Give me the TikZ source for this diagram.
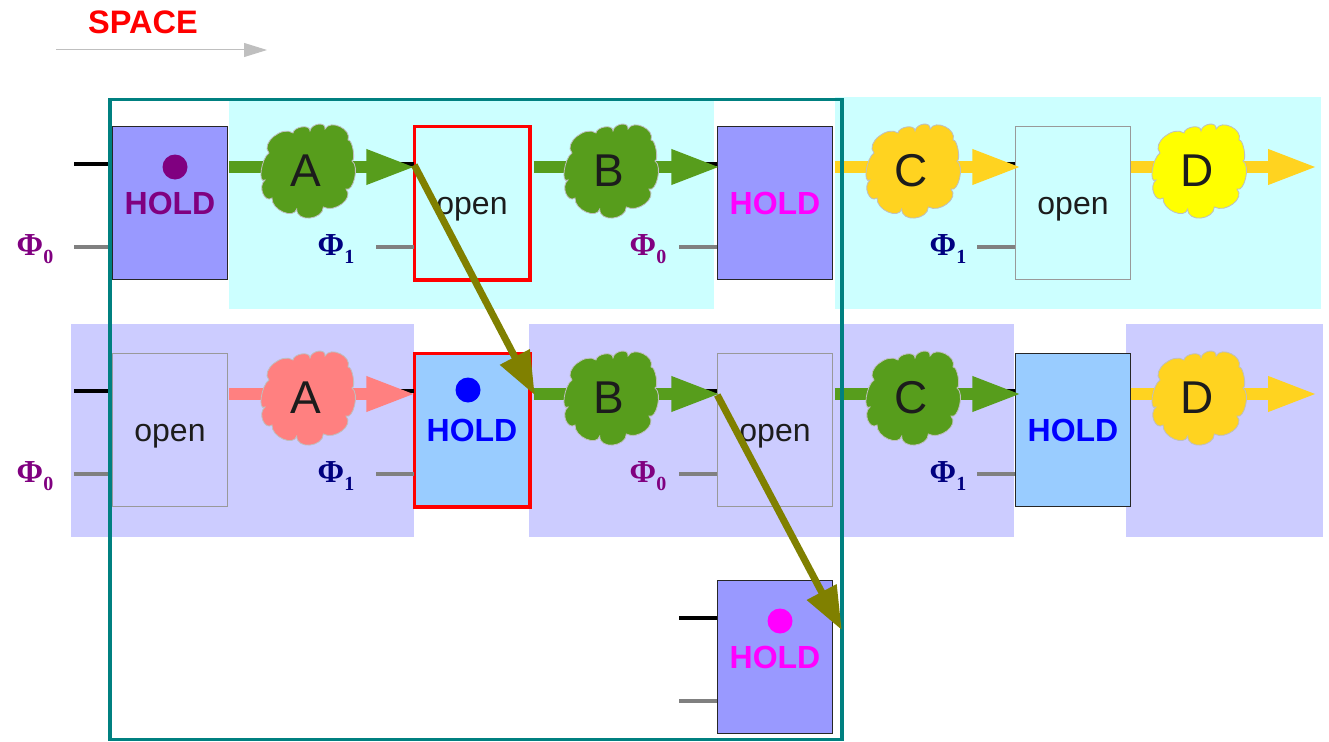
\documentclass[tikz,border=0pt]{standalone}
\usepackage{fontspec}
\setmainfont{Liberation Sans}
\newfontfamily\phifont{Liberation Serif}
\usetikzlibrary{arrows.meta}
\definecolor{holdblue}{HTML}{9999FF}
\definecolor{skyblue}{HTML}{99CCFF}
\definecolor{paleblue}{HTML}{CCCCFF}
\definecolor{palecyan}{HTML}{CCFFFF}
\definecolor{leaf}{HTML}{579D1C}
\definecolor{amber}{HTML}{FFD320}
\definecolor{salmon}{HTML}{FF8080}
\definecolor{inktext}{HTML}{1C1C1C}
\definecolor{holdpurple}{HTML}{800080}
\definecolor{holdpink}{HTML}{FF00FF}
\definecolor{holdnavy}{HTML}{000080}
\definecolor{jumpolive}{HTML}{808000}
\definecolor{framebar}{HTML}{008080}
\definecolor{brightyellow}{HTML}{FFFF00}
\newcommand{\phisym}[1]{\phifont\bfseries Φ\raisebox{-8pt}{\fontsize{20}{20}\selectfont #1}}
% outline of one token, then its letter
\newcommand{\tokenblob}[3]{
    \draw[draw=gray!50, line width=0.8pt, fill=#2, shift={(#1)}] (-39,-18)
        .. controls (-48,-27.6) and (-25.4,-45.9) .. (-15,-38)
        .. controls (-14.6,-44.1) and (2.1,-47.4) .. (2,-40)
        .. controls (3.1,-47.6) and (18.1,-50) .. (17,-42)
        .. controls (22.5,-52.3) and (44.2,-41.6) .. (40,-31)
        .. controls (44.5,-32.1) and (47.8,-10.4) .. (44,-10)
        .. controls (51.8,-4.9) and (45.1,21.7) .. (38,18)
        .. controls (46.5,27.3) and (26.5,42.3) .. (15.3,36)
        .. controls (15.3,48.7) and (-11.3,52.1) .. (-11.3,38)
        .. controls (-14,48.6) and (-36.7,39.2) .. (-36,27)
        .. controls (-43.4,32.5) and (-50.7,15.2) .. (-43,9)
        .. controls (-50.6,13.5) and (-46.6,-13.2) .. (-39,-18) -- cycle;
    \node[tokentext] (#1text) at ([xshift=-2pt]#1) {#3};
}
\begin{document}
\begin{tikzpicture}[x=1pt,y=-1pt,
    latch/.style = {draw, rectangle, minimum width=115.5pt, minimum height=153.5pt, inner sep=0pt, outer sep=0pt, line width=1pt, text height=23pt, text depth=0pt},
    holdlatch/.style = {latch, draw=black!85, font=\fontsize{32}{32}\selectfont\bfseries},
    openlatch/.style = {latch, draw=gray!80, text=inktext, font=\fontsize{32}{32}\selectfont},
    redlatch/.style = {draw=red, line width=3.5pt},
    token/.style = {circle, minimum size=88pt, inner sep=0pt, node distance=138pt, yshift=32pt},
    tokentext/.style = {inner sep=0pt, text=inktext, font=\fontsize{46}{46}\selectfont},
    holddot/.style = {circle, minimum size=25pt, inner sep=0pt, node distance=36pt},
    phizero/.style = {text=holdpurple, font=\fontsize{32}{32}\selectfont, yshift=-46pt, inner sep=0pt},
    phione/.style = {text=holdnavy, font=\fontsize{32}{32}\selectfont, yshift=-46pt, inner sep=0pt},
    blackwire/.style = {draw=black, line width=3.5pt},
    greywire/.style = {draw=gray, line width=3.5pt},
    flow/.style = {line width=12pt, -{Triangle[length=50pt,width=32pt]}},
    jump/.style = {draw=jumpolive, line width=7pt, -{Triangle[length=43pt,width=32pt]}}]

    % bands behind the two rows
    \fill[palecyan] (229,100) rectangle (714,309);
    \fill[palecyan] (835,97) rectangle (1321,309);
    \fill[paleblue] (71,324) rectangle (414,537);
    \fill[paleblue] (529,324) rectangle (1014,537);
    \fill[paleblue] (1126,324) rectangle (1323,537);

    % latches
    \node[holdlatch, fill=holdblue, text=holdpurple] (a1) at (170,203) {HOLD};
    \node[openlatch, redlatch, node distance=302pt] (a2) [right of=a1] {open};
    \node[holdlatch, fill=holdblue, text=holdpink, node distance=303pt] (a3) [right of=a2] {HOLD};
    \node[openlatch, node distance=298pt] (a4) [right of=a3] {open};
    \node[openlatch, node distance=227pt] (b1) [below of=a1] {open};
    \node[holdlatch, redlatch, fill=skyblue, text=blue, node distance=227pt] (b2) [below of=a2] {HOLD};
    \node[openlatch, node distance=227pt] (b3) [below of=a3] {open};
    \node[holdlatch, fill=skyblue, text=blue, node distance=227pt] (b4) [below of=a4] {HOLD};
    \node[holdlatch, fill=holdblue, text=holdpink, node distance=227pt] (c1) [below of=b3] {HOLD};

    \node[holddot, fill=holdpurple, xshift=5pt] (dot1) [above of=a1] {};
    \node[holddot, fill=blue, xshift=-4pt, node distance=40pt] (dot2) [above of=b2] {};
    \node[holddot, fill=holdpink, xshift=5pt] (dot3) [above of=c1] {};

    % clock labels
    \node[phizero, node distance=135pt] (p1) [left of=a1] {\phisym{0}};
    \node[phione, node distance=136pt] (p2) [left of=a2] {\phisym{1}};
    \node[phizero, node distance=127pt] (p3) [left of=a3] {\phisym{0}};
    \node[phione, node distance=125pt] (p4) [left of=a4] {\phisym{1}};
    \node[phizero, node distance=135pt] (q1) [left of=b1] {\phisym{0}};
    \node[phione, node distance=136pt] (q2) [left of=b2] {\phisym{1}};
    \node[phizero, node distance=127pt] (q3) [left of=b3] {\phisym{0}};
    \node[phione, node distance=125pt] (q4) [left of=b4] {\phisym{1}};

    % stubs into each latch
    \coordinate (ka1) at ([shift={(-38pt,39pt)}]a1.west); \coordinate (ga1) at ([shift={(-38pt,-44pt)}]a1.west);
    \coordinate (ka2) at ([shift={(-38pt,39pt)}]a2.west); \coordinate (ga2) at ([shift={(-38pt,-44pt)}]a2.west);
    \coordinate (ka3) at ([shift={(-38pt,39pt)}]a3.west); \coordinate (ga3) at ([shift={(-38pt,-44pt)}]a3.west);
    \coordinate (ka4) at ([shift={(-38pt,39pt)}]a4.west); \coordinate (ga4) at ([shift={(-38pt,-44pt)}]a4.west);
    \coordinate (kb1) at ([shift={(-38pt,39pt)}]b1.west); \coordinate (gb1) at ([shift={(-38pt,-44pt)}]b1.west);
    \coordinate (kb2) at ([shift={(-38pt,39pt)}]b2.west); \coordinate (gb2) at ([shift={(-38pt,-44pt)}]b2.west);
    \coordinate (kb3) at ([shift={(-38pt,39pt)}]b3.west); \coordinate (gb3) at ([shift={(-38pt,-44pt)}]b3.west);
    \coordinate (kb4) at ([shift={(-38pt,39pt)}]b4.west); \coordinate (gb4) at ([shift={(-38pt,-44pt)}]b4.west);
    \coordinate (kc1) at ([shift={(-38pt,39pt)}]c1.west); \coordinate (gc1) at ([shift={(-38pt,-44pt)}]c1.west);

    \draw[blackwire] (ka1) -- (ka1 -| a1.west); \draw[greywire] (ga1) -- (ga1 -| a1.west);
    \draw[blackwire] (ka2) -- (ka2 -| a2.west); \draw[greywire] (ga2) -- (ga2 -| a2.west);
    \draw[blackwire] (ka3) -- (ka3 -| a3.west); \draw[greywire] (ga3) -- (ga3 -| a3.west);
    \draw[blackwire] (ka4) -- (ka4 -| a4.west); \draw[greywire] (ga4) -- (ga4 -| a4.west);
    \draw[blackwire] (kb1) -- (kb1 -| b1.west); \draw[greywire] (gb1) -- (gb1 -| b1.west);
    \draw[blackwire] (kb2) -- (kb2 -| b2.west); \draw[greywire] (gb2) -- (gb2 -| b2.west);
    \draw[blackwire] (kb3) -- (kb3 -| b3.west); \draw[greywire] (gb3) -- (gb3 -| b3.west);
    \draw[blackwire] (kb4) -- (kb4 -| b4.west); \draw[greywire] (gb4) -- (gb4 -| b4.west);
    \draw[blackwire] (kc1) -- (kc1 -| c1.west); \draw[greywire] (gc1) -- (gc1 -| c1.west);

    % data flowing along the rows
    \coordinate (end1) at (1318,167);
    \coordinate (end2) at (1318,394);
    \draw[flow, leaf] ([shift={(1.5pt,36pt)}]a1.east) -- ([shift={(2pt,36pt)}]a2.west);
    \draw[flow, leaf] ([shift={(4pt,36pt)}]a2.east) -- ([shift={(4pt,36pt)}]a3.west);
    \draw[flow, amber] ([shift={(2pt,36pt)}]a3.east) -- ([shift={(7pt,36pt)}]a4.west);
    \draw[flow, amber] ([yshift=36pt]a4.east) -- (end1);
    \draw[flow, salmon] ([shift={(1.5pt,36pt)}]b1.east) -- ([shift={(2pt,36pt)}]b2.west);
    \draw[flow, leaf] ([shift={(4pt,36pt)}]b2.east) -- ([shift={(4pt,36pt)}]b3.west);
    \draw[flow, leaf] ([shift={(2pt,36pt)}]b3.east) -- ([shift={(7pt,36pt)}]b4.west);
    \draw[flow, amber] ([yshift=36pt]b4.east) -- (end2);

    \node[token] (ta) [right of=a1] {};
    \node[token, node distance=139pt] (tb) [right of=a2] {};
    \node[token] (tc) [right of=a3] {};
    \node[token, node distance=126pt] (td) [right of=a4] {};
    \node[token] (ua) [right of=b1] {};
    \node[token, node distance=139pt] (ub) [right of=b2] {};
    \node[token] (uc) [right of=b3] {};
    \node[token, node distance=126pt] (ud) [right of=b4] {};
    \tokenblob{ta}{leaf}{A}
    \tokenblob{tb}{leaf}{B}
    \tokenblob{tc}{amber}{C}
    \tokenblob{td}{brightyellow}{D}
    \tokenblob{ua}{salmon}{A}
    \tokenblob{ub}{leaf}{B}
    \tokenblob{uc}{leaf}{C}
    \tokenblob{ud}{amber}{D}

    % window and the two jumps
    \draw[framebar, line width=3.5pt] (110,99.5) rectangle (842,739.5);
    \draw[jump] ([yshift=38pt]a2.west) -- ([shift={(5pt,35pt)}]b2.east);
    \draw[jump] ([yshift=35pt]b3.west) -- ([shift={(9pt,27pt)}]c1.east);

    % space axis
    \node[text=red, font=\fontsize{32.5}{33}\selectfont\bfseries] (space) at (143,22) {SPACE};
    \coordinate (axis1) at (56,50);
    \coordinate (axis2) at (267,50);
    \draw[gray!50, line width=1pt, -{Triangle[length=23pt,width=14pt]}] (axis1) -- (axis2);

    \useasboundingbox (0,0) rectangle (1329,741);
\end{tikzpicture}
\end{document}
